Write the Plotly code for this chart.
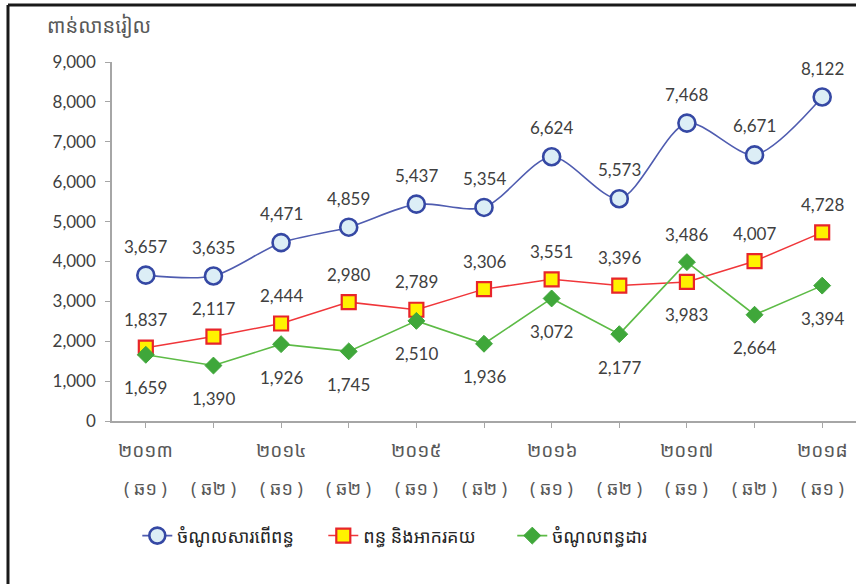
import plotly.graph_objects as go

categories = ["2013H1", "2013H2", "2014H1", "2014H2", "2015H1", "2015H2",
              "2016H1", "2016H2", "2017H1", "2017H2", "2018H1"]
year_labels = ["២០១៣", "", "២០១៤", "", "២០១៥", "", "២០១៦", "", "២០១៧", "", "២០១៨"]
half_labels = ["( ឆ១ )", "( ឆ២ )", "( ឆ១ )", "( ឆ២ )", "( ឆ១ )", "( ឆ២ )",
               "( ឆ១ )", "( ឆ២ )", "( ឆ១ )", "( ឆ២ )", "( ឆ១ )"]

tax_revenue = [3657, 3635, 4471, 4859, 5437, 5354, 6624, 5573, 7468, 6671, 8122]
customs = [1837, 2117, 2444, 2980, 2789, 3306, 3551, 3396, 3486, 4007, 4728]
taxation = [1659, 1390, 1926, 1745, 2510, 1936, 3072, 2177, 3983, 2664, 3394]

series_names = ["ចំណូលសារពើពន្ធ", "ពន្ធ និងអាករគយ", "ចំណូលពន្ធដារ"]
y_title = "ពាន់លានរៀល"

KH = "Khmer OS, Noto Sans Khmer, Khmer OS System, Lato, sans-serif"
NUM = "Lato, Liberation Sans, sans-serif"

fig = go.Figure()
fig.add_trace(go.Scatter(
    x=categories, y=tax_revenue, name=series_names[0], mode="lines+markers",
    line=dict(color="#4F5CB0", width=1.6, shape="spline", smoothing=0.8),
    marker=dict(symbol="circle", size=17, color="#DCEEF6",
                line=dict(color="#3548A4", width=2.6)),
    legend="legend",
))
fig.add_trace(go.Scatter(
    x=categories, y=customs, name=series_names[1], mode="lines+markers",
    line=dict(color="#F0363A", width=1.5),
    marker=dict(symbol="square", size=14, color="#FFF200",
                line=dict(color="#E8252A", width=2.2)),
    legend="legend2",
))
fig.add_trace(go.Scatter(
    x=categories, y=taxation, name=series_names[2], mode="lines+markers",
    line=dict(color="#5DBB46", width=1.6),
    marker=dict(symbol="diamond", size=13, color="#3FA73A",
                line=dict(color="#3FA73A", width=1)),
    legend="legend3",
))

ann = []
lab_font = dict(family=NUM, size=17, color="#404040")
for i, c in enumerate(categories):
    ann.append(dict(x=c, y=tax_revenue[i], xref="x", yref="y", text=f"{tax_revenue[i]:,}",
                    showarrow=False, yshift=29, font=lab_font))
    hi = max(customs[i], taxation[i])
    lo = min(customs[i], taxation[i])
    ann.append(dict(x=c, y=hi, xref="x", yref="y", text=f"{customs[i]:,}",
                    showarrow=False, yshift=28, font=lab_font))
    ann.append(dict(x=c, y=lo, xref="x", yref="y", text=f"{taxation[i]:,}",
                    showarrow=False, yshift=-33, font=lab_font))
    if year_labels[i]:
        ann.append(dict(x=c, y=-0.081, xref="x", yref="paper", text=year_labels[i],
                        yanchor="middle", showarrow=False,
                        font=dict(family=KH, size=19, color="#595959")))
    ann.append(dict(x=c, y=-0.187, xref="x", yref="paper", text=half_labels[i],
                    yanchor="middle", showarrow=False,
                    font=dict(family=KH, size=18, color="#595959")))

ann.append(dict(x=-0.09, y=1.103, xref="paper", yref="paper", text=y_title,
                xanchor="left", yanchor="middle", showarrow=False,
                font=dict(family=KH, size=20, color="#595959")))

shapes = [
    dict(type="line", xref="paper", yref="paper", x0=-0.1398, x1=-0.1398,
         y0=-0.5, y1=1.159, line=dict(color="#1a1a1a", width=3)),
    dict(type="line", xref="paper", yref="paper", x0=-0.1398, x1=1.2,
         y0=1.159, y1=1.159, line=dict(color="#1a1a1a", width=3)),
]

leg_common = dict(orientation="h", y=-0.32, xanchor="left", yanchor="middle",
                  font=dict(family=KH, size=18, color="#262626"),
                  itemwidth=30, bgcolor="rgba(0,0,0,0)")

fig.update_layout(
    width=856, height=584,
    margin=dict(l=112, r=0, t=62, b=163),
    paper_bgcolor="white", plot_bgcolor="white",
    showlegend=True,
    legend=dict(x=0.034, **leg_common),
    legend2=dict(x=0.284, **leg_common),
    legend3=dict(x=0.538, **leg_common),
    annotations=ann, shapes=shapes,
    xaxis=dict(type="category", range=[-0.5, len(categories) - 0.5],
               showticklabels=False, ticks="outside", ticklen=5, tickcolor="#A6A6A6",
               showline=True, linecolor="#A6A6A6", linewidth=1.5, showgrid=False,
               zeroline=False),
    yaxis=dict(range=[0, 9000], dtick=1000, tickformat=",", ticks="outside", ticklen=5,
               tickcolor="#A6A6A6", showline=True, linecolor="#A6A6A6", linewidth=1.5,
               showgrid=False, zeroline=False, ticklabelstandoff=6,
               tickfont=dict(family=NUM, size=17, color="#404040")),
)

fig.write_html("out.html", config={"displayModeBar": False},
               post_script="document.body.style.margin='0';")
